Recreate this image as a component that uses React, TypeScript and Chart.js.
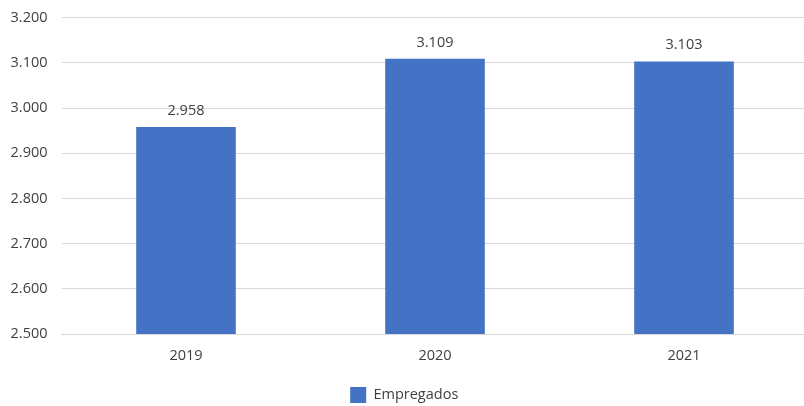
import React, { useEffect, useRef } from "react";
import { Chart, registerables } from "chart.js";

Chart.register(...registerables);

const categories = ["2019", "2020", "2021"];
const empregados = [2958, 3109, 3103];
const seriesLabel = "Empregados";
const yMin = 2500;
const yMax = 3200;
const yStep = 100;

const fmt = (v: number) => {
  const s = Math.round(v).toString();
  return s.replace(/\B(?=(\d{3})+(?!\d))/g, ".");
};

const FONT = "'Open Sans', 'Noto Sans', sans-serif";
const TEXT = "#404040";
const FS = 14.5;

const dataLabels = {
  id: "dataLabels",
  afterDatasetsDraw(chart: any) {
    const ctx = chart.ctx;
    ctx.save();
    ctx.font = `${FS}px ${FONT}`;
    ctx.fillStyle = TEXT;
    ctx.textAlign = "center";
    ctx.textBaseline = "bottom";
    chart.data.datasets.forEach((ds: any, i: number) => {
      const meta = chart.getDatasetMeta(i);
      meta.data.forEach((el: any, j: number) => {
        ctx.fillText(fmt(ds.data[j]), el.x, el.y - 9);
      });
    });
    ctx.restore();
  },
};

export default function App() {
  const ref = useRef<HTMLCanvasElement | null>(null);
  useEffect(() => {
    if (!ref.current) return;
    const chart = new Chart(ref.current, {
      type: "bar",
      data: {
        labels: categories,
        datasets: [
          {
            label: seriesLabel,
            data: empregados,
            backgroundColor: "#4472C4",
            borderWidth: 0,
            barPercentage: 0.4,
            categoryPercentage: 1,
          },
        ],
      },
      options: {
        animation: false,
        responsive: false,
        maintainAspectRatio: false,
        layout: { padding: { top: 7, left: 0, right: 3.5, bottom: -7 } },
        scales: {
          x: {
            grid: { display: false, drawTicks: false },
            border: { display: true, color: "#d9d9d9", width: 1 },
            ticks: { color: TEXT, font: { family: FONT, size: FS }, padding: 13 },
            afterFit: (s: any) => {
              s.height = 47;
            },
          },
          y: {
            min: yMin,
            max: yMax,
            grid: { color: "#d9d9d9", drawTicks: false },
            border: { display: false },
            ticks: {
              stepSize: yStep,
              color: TEXT,
              font: { family: FONT, size: FS },
              padding: 14,
              callback: (v: any) => fmt(Number(v)),
            },
            afterFit: (s: any) => {
              s.width = 61.5;
            },
          },
        },
        plugins: {
          legend: {
            position: "bottom",
            labels: {
              boxWidth: 16,
              boxHeight: 16,
              padding: 6,
              color: TEXT,
              font: { family: FONT, size: FS },
            },
          },
          tooltip: { enabled: false },
        },
      },
      plugins: [dataLabels],
    });
    return () => chart.destroy();
  }, []);
  return (
    <div style={{ position: "fixed", left: 0, top: 0, width: 812, height: 406, overflow: "hidden", background: "#fff" }}>
      <canvas
        ref={ref}
        width={812}
        height={411}
        style={{ position: "absolute", left: 0, top: -5, width: 812, height: 411 }}
      />
    </div>
  );
}
